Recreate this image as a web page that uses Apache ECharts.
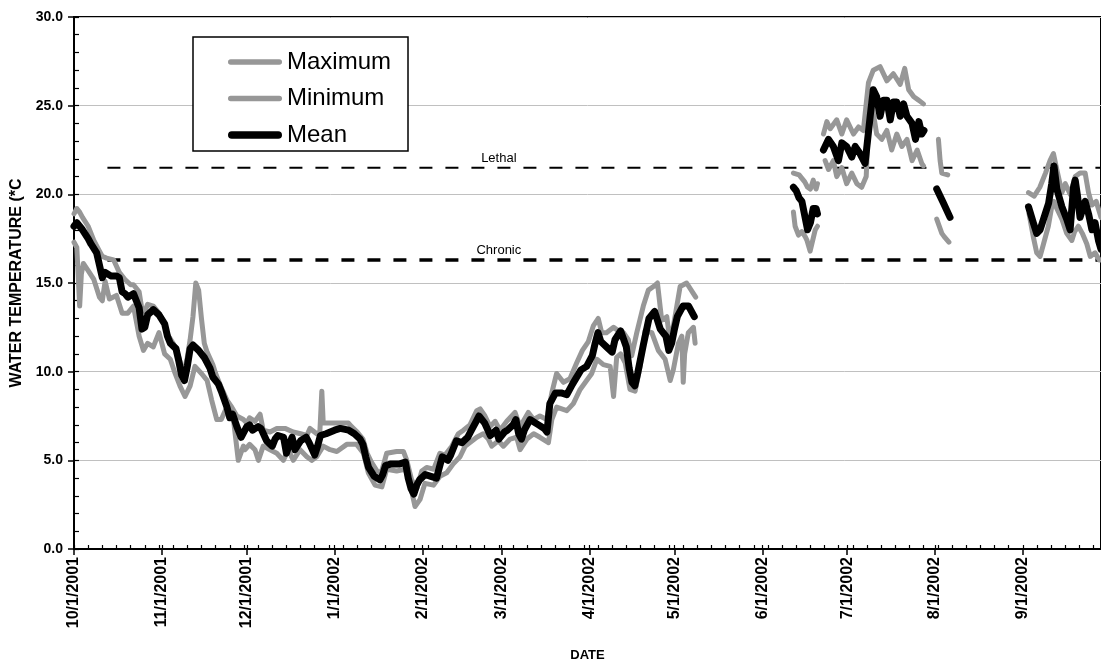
<!DOCTYPE html>
<html>
<head>
<meta charset="utf-8">
<script src="https://cdn.jsdelivr.net/npm/echarts@6/dist/echarts.min.js"></script>
<style>
  html, body { margin: 0; padding: 0; background: #fff; }
  #chart { width: 1101px; height: 665px; }
</style>
</head>
<body>
<div id="chart"></div>
<script>
// x values are days counted from 10/1/2001, null marks a gap in the record
const monthStarts = [0, 31, 61, 92, 123, 151, 182, 212, 243, 273, 304, 335];
const monthLabels = ['10/1/2001', '11/1/2001', '12/1/2001', '1/1/2002', '2/1/2002', '3/1/2002',
  '4/1/2002', '5/1/2002', '6/1/2002', '7/1/2002', '8/1/2002', '9/1/2002'];

const maxTemp = [
  [0, 18.9], [1, 19.2], [2, 19.0], [3, 18.7], [5, 18.2], [7, 17.4], [9, 16.8], [10, 16.5], [11.5, 16.4], [14, 16.3],
  [16, 15.6], [18, 15.2], [20, 14.9], [21, 14.9], [23, 14.5], [24, 13.5], [25, 13.4], [26, 13.8], [28, 13.7], [30, 13.3],
  [32, 12.7], [33, 12.1], [35, 11.6], [36, 11.3], [37, 10.8], [38, 10.2], [39, 10.1], [40, 10.8], [41, 11.8], [42, 13.1],
  [43, 15.0], [44, 14.6], [45, 13.0], [46, 11.6], [47, 11.1], [49, 10.4], [50, 9.9], [52, 9.1], [54, 8.4], [55.7, 8.0],
  [57.5, 7.5], [59.8, 7.3], [61, 7.1], [62, 7.4], [63.9, 7.2], [65.7, 7.6], [66.8, 6.7], [69.2, 6.6], [71.6, 6.8], [74.5, 6.8],
  [77.4, 6.6], [80, 6.5], [82.2, 6.4], [83.3, 6.8], [85.7, 6.5], [86.8, 6.6], [87.5, 8.9], [88, 7.1], [90, 7.1], [93, 7.1],
  [96.9, 7.1], [98, 6.9], [100, 6.6], [102, 6.2], [103.5, 5.4], [105, 4.9], [107, 4.4], [108.5, 4.3], [110.4, 5.4], [113.9, 5.5],
  [116.3, 5.5], [117.5, 5.0], [119.2, 3.9], [121, 3.4], [122.8, 4.4], [124.5, 4.6], [127, 4.5], [129.2, 5.4], [131, 5.3], [133.4, 5.8],
  [135.7, 6.5], [137.5, 6.7], [139.8, 7.0], [142.2, 7.8], [143.4, 7.9], [145.1, 7.5], [146.9, 6.9], [148.7, 7.2], [150.4, 6.7], [152.8, 7.2],
  [155.7, 7.7], [157.5, 6.9], [160.4, 7.7], [162.3, 7.3], [164.5, 7.5], [166.9, 7.3], [168.7, 8.8], [170.4, 9.9], [172.8, 9.4], [175.1, 9.6],
  [177.5, 10.5], [179.5, 11.2], [181.6, 11.7], [183.4, 12.6], [185.1, 13.0], [186.3, 12.2], [188, 12.2], [190.5, 12.5], [192.2, 12.3], [194, 12.2],
  [195.7, 11.8], [196.9, 10.9], [198.7, 12.2], [201, 13.7], [202.8, 14.6], [204.6, 14.8], [206, 15.0], [207.5, 12.9], [209.3, 13.1], [210.5, 11.6],
  [212.2, 13.1], [214, 14.8], [216.3, 15.0], [218.7, 14.4], [219.5, 14.2],
  null,
  [254, 21.2], [256, 21.1], [257, 20.9], [258, 20.7], [259, 20.4], [260, 20.3], [261, 20.8], [262, 20.3], [262.5, 20.6],
  null,
  [264.6, 23.4], [265.8, 24.1], [267, 23.7], [269.3, 24.2], [271.1, 23.4], [272.8, 24.2], [275.2, 23.4], [277, 23.8], [278.7, 23.6], [280.5, 26.3],
  [282.2, 27.0], [284.6, 27.2], [287, 26.4], [289.3, 26.8], [291.7, 26.2], [293.3, 27.1], [294.7, 25.9], [296.5, 25.5], [298.3, 25.3], [299.9, 25.1],
  null,
  [305.2, 23.1], [305.8, 21.9], [306.4, 21.2], [308.5, 21.1],
  null,
  [337, 20.1], [339, 19.9], [341, 20.4], [343, 21.2], [344.6, 21.9], [345.8, 22.3], [347, 21.4], [348.8, 20.1], [350, 20.6], [351.7, 20.0],
  [353.5, 21.0], [355.2, 21.2], [357, 21.2], [358.2, 20.1], [359.4, 19.4], [360.9, 19.6], [362.6, 18.7], [364, 18.6]
];

const minTemp = [
  [0, 17.3], [1, 17.0], [1.6, 15.0], [2, 13.7], [2.6, 15.5], [3.3, 16.1], [5, 15.7], [7, 15.2], [9, 14.2], [10, 14.0],
  [11, 15.1], [12.5, 14.1], [15, 14.3], [17, 13.3], [19, 13.3], [21, 13.7], [23, 12.0], [24.5, 11.2], [26, 11.6], [28, 11.4],
  [30, 12.2], [32, 11.0], [34, 10.7], [35.7, 9.9], [37.4, 9.2], [39.2, 8.6], [41, 9.2], [42.7, 10.3], [45, 9.9], [47, 9.5],
  [48.6, 8.4], [50.4, 7.3], [52, 7.3], [54.5, 8.2], [56.3, 7.3], [58, 5.0], [59.8, 5.8], [60.4, 5.6], [62, 5.9], [63.9, 5.6],
  [65.1, 5.0], [66.8, 5.8], [69.2, 5.6], [71.6, 5.4], [73.9, 5.0], [75.7, 5.6], [77.4, 5.0], [79.8, 5.6], [82.2, 5.2], [83.9, 5.0],
  [85.7, 5.2], [88, 5.8], [90.4, 5.6], [92.8, 5.5], [96.3, 5.9], [99.8, 5.9], [102.2, 5.4], [103.9, 4.3], [106.3, 3.6], [108.7, 3.5],
  [110.4, 4.5], [113.9, 4.4], [116.9, 4.5], [118.6, 3.7], [120.4, 2.4], [122.2, 2.8], [123.9, 3.7], [126.9, 3.6], [129.2, 4.1], [131.6, 4.3],
  [133.9, 4.8], [136.3, 5.2], [138.1, 5.8], [139.8, 6.0], [142.2, 6.3], [144.5, 6.5], [146.3, 6.2], [147.5, 5.8], [149.8, 6.1], [151.6, 5.8],
  [154, 6.2], [156.3, 6.3], [157.5, 5.6], [159.9, 6.2], [162.3, 6.5], [164.5, 6.3], [167.5, 6.0], [168.7, 7.3], [170.4, 8.0], [174, 7.8],
  [176.3, 8.2], [178.7, 9.0], [181, 9.5], [182.8, 9.9], [184.6, 10.7], [186.9, 10.4], [189.3, 10.3], [190.5, 8.6], [191.6, 10.8], [193, 11.0],
  [194.6, 10.5], [196.3, 9.0], [198.1, 8.9], [199.9, 10.3], [201.6, 12.3], [204, 12.2], [206.3, 11.2], [208.7, 10.7], [210.5, 9.5], [211.6, 10.1],
  [213.4, 11.6], [214.6, 12.0], [215.1, 9.4], [215.6, 11.0], [216.9, 12.2], [218.7, 12.5], [219.3, 11.6],
  null,
  [254, 19.0], [254.6, 18.2], [255.8, 17.7], [257, 17.9], [258.2, 17.6], [258.8, 17.4], [259.9, 16.8], [260.5, 16.7], [261.7, 18.0], [262.5, 18.2],
  null,
  [265.2, 21.9], [266.4, 21.4], [268.1, 21.9], [269.3, 21.0], [271.1, 21.5], [272.8, 20.6], [274.6, 21.2], [276.4, 20.6], [278.1, 20.4], [279.7, 21.0],
  [280.5, 24.0], [281.7, 25.1], [282.2, 25.0], [283.4, 23.4], [285.2, 23.1], [287, 23.6], [288.7, 22.5], [290.5, 23.4], [292.3, 22.7], [294.1, 23.1],
  [295.9, 21.9], [297.7, 22.5], [299.3, 21.75], [299.9, 21.6],
  null,
  [304.6, 18.6], [306.4, 17.8], [307.3, 17.6], [308.9, 17.3],
  null,
  [337.2, 18.9], [338.7, 17.6], [339.9, 16.7], [341.1, 16.5], [342.3, 17.2], [344, 18.2], [345.2, 19.3], [346, 19.6], [347, 19.2], [348.8, 18.6],
  [350.5, 17.8], [352.3, 17.4], [353.3, 17.9], [354.6, 18.2], [356, 17.8], [357.6, 17.2], [358.8, 16.5], [360.5, 16.7], [362, 16.3], [364, 16.3]
];

const meanTemp = [
  [0, 18.2], [1, 18.4], [3, 18.0], [5, 17.5], [6, 17.2], [8, 16.7], [9, 16.0], [10, 15.3], [11, 15.6], [13, 15.4],
  [15, 15.4], [16, 15.3], [17, 14.5], [18, 14.4], [19, 14.2], [21, 14.4], [22, 14.0], [23, 13.6], [24, 12.4], [25, 12.5],
  [26, 13.2], [28, 13.5], [30, 13.2], [32, 12.7], [33, 12.0], [34, 11.6], [36, 11.3], [37, 10.6], [38, 9.8], [39, 9.5],
  [40, 10.3], [41, 11.3], [42, 11.5], [44, 11.2], [46, 10.8], [48, 10.2], [49, 9.7], [51, 9.3], [52, 8.9], [54, 8.0],
  [55, 7.4], [56, 7.6], [57.5, 6.9], [59, 6.3], [61, 6.9], [62, 7.0], [63, 6.7], [65, 6.9], [66, 6.8], [68, 6.1],
  [70, 5.8], [71, 6.2], [72, 6.4], [74, 6.3], [75, 5.4], [76, 5.9], [77, 6.3], [78, 5.6], [80, 6.1], [82, 6.3],
  [83, 6.0], [85, 5.3], [86, 5.8], [87, 6.4], [89, 6.5], [92, 6.7], [94, 6.8], [97, 6.7], [99, 6.5], [101, 6.2],
  [102, 5.9], [103, 5.2], [104, 4.6], [106, 4.1], [108, 3.9], [109, 4.2], [110, 4.7], [112, 4.8], [115, 4.8], [117, 4.9],
  [118, 4.0], [119, 3.4], [120, 3.1], [121, 3.6], [122, 3.9], [124, 4.2], [126, 4.1], [128, 4.0], [129, 4.6], [130, 5.2],
  [131, 5.1], [132, 5.0], [133, 5.3], [135, 6.1], [137, 6.0], [139, 6.3], [140, 6.6], [142, 7.2], [143, 7.5], [145, 7.1],
  [147, 6.4], [149, 6.7], [150, 6.2], [152, 6.6], [153, 6.7], [155, 7.0], [156, 7.3], [157, 6.5], [158, 6.2], [159, 6.7],
  [161, 7.3], [163, 7.1], [164, 7.0], [166, 6.8], [167, 6.6], [168, 8.2], [170, 8.8], [172, 8.8], [174, 8.7], [176, 9.3],
  [179, 10.1], [181, 10.3], [183, 10.9], [184, 11.6], [185, 12.2], [186, 11.7], [188, 11.4], [190, 11.1], [191, 11.8], [193, 12.3],
  [195, 11.4], [196, 10.2], [197, 9.4], [198, 9.2], [199, 9.9], [201, 11.5], [203, 13.0], [205, 13.4], [206, 12.9], [207, 12.4],
  [209, 12.0], [210, 11.2], [211, 11.6], [212, 12.4], [213, 13.1], [215, 13.7], [217, 13.7], [219, 13.1],
  null,
  [254, 20.4], [255, 20.2], [256, 19.8], [257, 19.6], [258, 18.8], [259, 18.0], [260, 18.4], [261, 19.2], [262, 19.2], [262.5, 18.9],
  null,
  [264.6, 22.5], [266.4, 23.1], [268.1, 22.7], [269.9, 21.9], [271.1, 22.9], [272.8, 22.7], [274.6, 22.1], [275.8, 22.7], [277.5, 22.3], [279.3, 21.75],
  [281.1, 24.4], [282.2, 25.9], [283.4, 25.5], [284.6, 24.4], [285.8, 25.3], [287, 25.3], [288.2, 24.2], [289.3, 25.2], [290.5, 25.2], [291.7, 24.4],
  [292.9, 25.1], [294.1, 24.4], [295.9, 24.0], [297.1, 23.1], [298.3, 24.1], [299.3, 23.4], [300.1, 23.6],
  null,
  [304.6, 20.3], [307, 19.5], [309.3, 18.7],
  null,
  [337, 19.3], [338.7, 18.4], [339.9, 17.8], [341.1, 18.0], [342.9, 18.9], [344.1, 19.5], [345.2, 20.6], [346, 21.6], [347, 20.3], [348.8, 19.3],
  [350.5, 18.6], [351.7, 18.0], [352.9, 20.4], [353.5, 20.8], [354.3, 19.9], [355.2, 18.7], [357, 19.6], [358.2, 18.9], [359.4, 18.0], [360.5, 18.4],
  [361.7, 17.4], [362.6, 16.9], [364, 17.2]
];

// criteria lines: name, level, dash width
const limitNames = ['Lethal', 'Chronic'];
const limitLevels = [21.5, 16.3];
const limitWidths = [2, 3.5];
const limitStartDay = 11.8;
const limitLabelDay = 150;
const limitEndDay = 365;

const FONT = "'Liberation Sans', Arial, Helvetica, sans-serif";
const X_MAX = 362.6;

function withGaps(pts) {
  return pts.map(p => (p === null ? ['-', '-'] : p));
}

// small ticks every 5 days plus month starts (drawn inside the plot)
const smallTickDays = [];
for (let d = 0; d <= 360; d += 5) smallTickDays.push(d);
monthStarts.forEach(d => { if (smallTickDays.indexOf(d) < 0) smallTickDays.push(d); });
smallTickDays.sort((a, b) => a - b);

// legend swatches: rounded bars, thin for grey series, thick for the mean
const thinBar = 'path://M5,0H95A5,5,0,0,1,95,10H5A5,5,0,0,1,5,0Z';
const thickBar = 'path://M7,0H93A7,7,0,0,1,93,14H7A7,7,0,0,1,7,0Z';

const chart = echarts.init(document.getElementById('chart'), null, { renderer: 'canvas' });

const gridRect = { left: 74, top: 17, right: 0, bottom: 116 };

const limitSeries = limitNames.map((name, i) => ({
  name: name,
  type: 'line',
  xAxisIndex: 0,
  yAxisIndex: 0,
  symbol: 'circle',
  symbolSize: 0,
  showSymbol: true,
  silent: true,
  z: 1,
  lineStyle: { color: '#000', width: limitWidths[i], type: [13, 13] },
  label: {
    show: false,
    position: 'top',
    distance: 3,
    formatter: '{a}',
    color: '#000',
    fontSize: 13,
    fontFamily: FONT
  },
  data: [
    [limitStartDay, limitLevels[i]],
    { value: [limitLabelDay, limitLevels[i]], label: { show: true } },
    [limitEndDay, limitLevels[i]]
  ]
}));

const dataLine = (name, pts, color, width, z) => ({
  name: name,
  type: 'line',
  xAxisIndex: 0,
  yAxisIndex: 0,
  symbol: 'none',
  connectNulls: false,
  silent: true,
  z: z,
  itemStyle: { color: color },
  lineStyle: { color: color, width: width, cap: 'round', join: 'round' },
  data: withGaps(pts)
});

const option = {
  animation: false,
  backgroundColor: '#fff',
  textStyle: { fontFamily: FONT },
  grid: [
    Object.assign({ show: true, borderColor: '#000', borderWidth: 2, backgroundColor: 'transparent',
      containLabel: false, outerBoundsMode: 'none' }, gridRect),
    Object.assign({ show: false, containLabel: false, outerBoundsMode: 'none' }, gridRect)
  ],
  legend: {
    data: [
      { name: 'Maximum', icon: thinBar },
      { name: 'Minimum', icon: thinBar },
      { name: 'Mean', icon: thickBar }
    ],
    orient: 'vertical',
    left: 193,
    top: 37,
    itemWidth: 54,
    itemHeight: 14,
    itemGap: 12.5,
    symbolKeepAspect: true,
    padding: [13, 17, 4, 35],
    borderColor: '#000',
    borderWidth: 1.5,
    backgroundColor: '#fff',
    selectedMode: false,
    textStyle: { fontSize: 24, color: '#000', fontFamily: FONT }
  },
  xAxis: [
    {
      type: 'value',
      gridIndex: 0,
      min: 0,
      max: X_MAX,
      name: 'DATE',
      nameLocation: 'middle',
      nameGap: 100,
      nameTextStyle: { fontSize: 13, fontWeight: 'bold', color: '#000', fontFamily: FONT },
      axisLine: { show: true, onZero: false, lineStyle: { color: '#000', width: 2 } },
      axisTick: { show: true, inside: false, length: 6, customValues: monthStarts, lineStyle: { color: '#000', width: 1.5 } },
      axisLabel: {
        show: true,
        customValues: monthStarts,
        rotate: 90,
        margin: 8,
        fontSize: 16,
        fontWeight: 'bold',
        color: '#000',
        fontFamily: FONT,
        formatter: v => monthLabels[monthStarts.indexOf(Math.round(v))] || ''
      },
      splitLine: { show: false }
    },
    {
      type: 'value',
      gridIndex: 1,
      min: 0,
      max: X_MAX,
      axisLine: { show: false },
      axisTick: { show: true, inside: true, length: 4, customValues: smallTickDays, lineStyle: { color: '#000', width: 1.2 } },
      axisLabel: { show: false },
      splitLine: { show: false }
    }
  ],
  yAxis: [
    {
      type: 'value',
      gridIndex: 0,
      min: 0,
      max: 30,
      interval: 5,
      name: 'WATER TEMPERATURE (*C',
      nameLocation: 'middle',
      nameGap: 49,
      nameTextStyle: { fontSize: 16, fontWeight: 'bold', color: '#000', fontFamily: FONT },
      axisLine: { show: true, onZero: false, lineStyle: { color: '#000', width: 2 } },
      axisTick: { show: true, inside: false, length: 6, lineStyle: { color: '#000', width: 1.5 } },
      axisLabel: {
        margin: 11,
        fontSize: 14,
        fontWeight: 'bold',
        color: '#000',
        fontFamily: FONT,
        formatter: v => v.toFixed(1)
      },
      splitLine: { show: true, lineStyle: { color: '#c0c0c0', width: 1 } }
    },
    {
      type: 'value',
      gridIndex: 1,
      min: 0,
      max: 30,
      interval: 1,
      axisLine: { show: false },
      axisTick: { show: true, inside: true, length: 5, lineStyle: { color: '#000', width: 1.2 } },
      axisLabel: { show: false },
      splitLine: { show: false }
    }
  ],
  series: limitSeries.concat([
    dataLine('Maximum', maxTemp, '#979797', 5, 3),
    dataLine('Minimum', minTemp, '#979797', 5, 3),
    dataLine('Mean', meanTemp, '#000000', 7, 4)
  ])
};

chart.setOption(option);
</script>
</body>
</html>
